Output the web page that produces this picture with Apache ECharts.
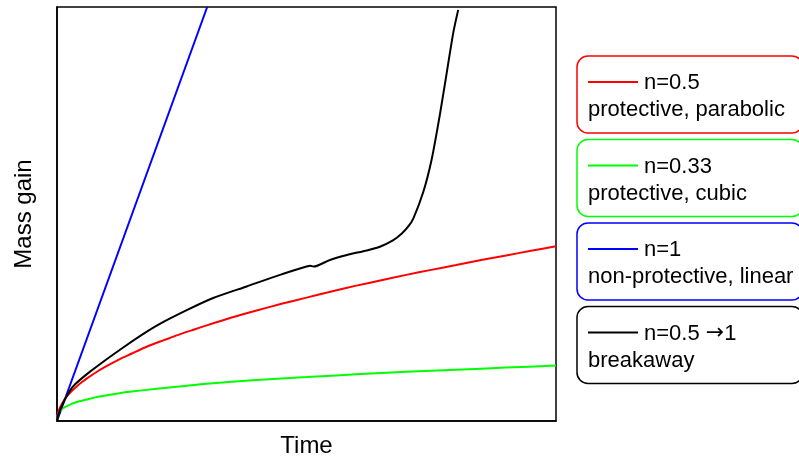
<!DOCTYPE html>
<html>
<head>
<meta charset="utf-8">
<script src="https://cdn.jsdelivr.net/npm/echarts@6/dist/echarts.min.js"></script>
<style>
  html, body { margin: 0; padding: 0; background: #fff; }
  #chart { width: 799px; height: 463px; }
</style>
</head>
<body>
<div id="chart"></div>
<script>
// values, axes run 0..100 (arbitrary units)
const parabolicData = [
  [0, 0], [0.25, 2.1], [0.5, 3.0], [1, 4.2], [1.5, 5.2], [2, 6.0], [3, 7.3],
  [4, 8.4], [5, 9.4], [6, 10.3], [8, 11.9], [10, 13.3], [12.5, 14.9],
  [15, 16.3], [17.5, 17.7], [20, 18.9], [22.5, 20.0], [25, 21.1], [27.5, 22.1],
  [30, 23.1], [35, 25.0], [40, 26.7], [45, 28.3], [50, 29.8], [55, 31.3],
  [60, 32.7], [65, 34.0], [70, 35.3], [75, 36.5], [80, 37.7], [85, 38.9],
  [90, 40.0], [95, 41.1], [100, 42.2]
]
const cubicData = [
  [0, 0], [0.1, 1.3], [0.25, 1.8], [0.5, 2.3], [1, 2.9], [1.5, 3.3], [2, 3.6],
  [3, 4.2], [4, 4.6], [5, 4.9], [6, 5.2], [8, 5.8], [10, 6.2], [12.5, 6.7],
  [15, 7.1], [20, 7.8], [25, 8.4], [30, 9.0], [40, 9.9], [50, 10.6],
  [60, 11.3], [70, 11.9], [80, 12.4], [90, 12.9], [100, 13.4]
]
const linearData = [[0, 0], [30.1, 100]]
const breakawayData = [
  [0, 0], [0.2, 1.2], [0.5, 2.2], [1.5, 5.0], [3.1, 8.2], [6.5, 11.8],
  [13.2, 17.7], [19.8, 22.9], [25.9, 26.7], [31.3, 29.7], [38.0, 32.5],
  [44.7, 35.3], [50.0, 37.3], [50.7, 37.5], [51.4, 37.3], [54.7, 38.9],
  [58.1, 40.1], [62.1, 41.2], [64.7, 42.1], [67.4, 43.7], [69.1, 45.3],
  [70.4, 47.0], [71.4, 48.9], [73.4, 55.3], [75.1, 63.3], [76.8, 74.5],
  [78.1, 84.1], [79.4, 93.7], [80.4, 99.3]
]

const legendItems = [
  { color: '#ff0000', top: 'n=0.5', bottom: 'protective, parabolic' },
  { color: '#00ff00', top: 'n=0.33', bottom: 'protective, cubic' },
  { color: '#0000ff', top: 'n=1', bottom: 'non-protective, linear' },
  { color: '#000000', top: 'n=0.5 {a|\u2192}1', bottom: 'breakaway' }
]

const font = 'Liberation Sans, Arial, sans-serif'

function legendGraphics () {
  let out = []
  legendItems.forEach(function (item, i) {
    let y0 = 56 + i * 83.5
    out.push({
      type: 'rect',
      shape: { x: 577, y: y0, width: 226, height: 77, r: 11 },
      style: { fill: '#fff', stroke: item.color, lineWidth: 1.5 }
    })
    out.push({
      type: 'line',
      shape: { x1: 588, y1: y0 + 26, x2: 638, y2: y0 + 26 },
      style: { stroke: item.color, lineWidth: 2 }
    })
    out.push({
      type: 'text',
      x: 644, y: y0 + 27,
      style: {
        text: item.top, fill: '#000', font: '22px ' + font, textVerticalAlign: 'middle',
        rich: { a: { fontFamily: 'DejaVu Sans', fontSize: 22, fill: '#000' } }
      }
    })
    out.push({
      type: 'text',
      x: 588, y: y0 + 54,
      style: { text: item.bottom, fill: '#000', font: '22px ' + font, textVerticalAlign: 'middle' }
    })
  })
  return out
}

function lineSeries (name, data, color) {
  return {
    name: name,
    type: 'line',
    data: data,
    showSymbol: false,
    smooth: 0.25,
    lineStyle: { color: color, width: 2 },
    itemStyle: { color: color }
  }
}

let chart = echarts.init(document.getElementById('chart'))
chart.setOption({
  animation: false,
  backgroundColor: '#fff',
  grid: {
    left: 57, right: 243, top: 7, bottom: 39,
    show: true, borderColor: '#000', borderWidth: 1.5
  },
  xAxis: {
    type: 'value', min: 0, max: 100,
    name: 'Time', nameLocation: 'middle', nameGap: 13,
    nameTextStyle: { color: '#000', fontSize: 24, fontFamily: font },
    axisLine: { show: true, lineStyle: { color: '#000', width: 1.5 } },
    axisTick: { show: false }, axisLabel: { show: false }, splitLine: { show: false }
  },
  yAxis: {
    type: 'value', min: 0, max: 100,
    name: 'Mass gain', nameLocation: 'middle', nameGap: 21,
    nameTextStyle: { color: '#000', fontSize: 24, fontFamily: font },
    axisLine: { show: true, lineStyle: { color: '#000', width: 1.5 } },
    axisTick: { show: false }, axisLabel: { show: false }, splitLine: { show: false }
  },
  series: [
    lineSeries('n=1', linearData, '#0000ff'),
    lineSeries('n=0.33', cubicData, '#00ff00'),
    lineSeries('n=0.5', parabolicData, '#ff0000'),
    lineSeries('n=0.5 \u2192 1', breakawayData, '#000000')
  ],
  graphic: legendGraphics()
})
</script>
</body>
</html>
